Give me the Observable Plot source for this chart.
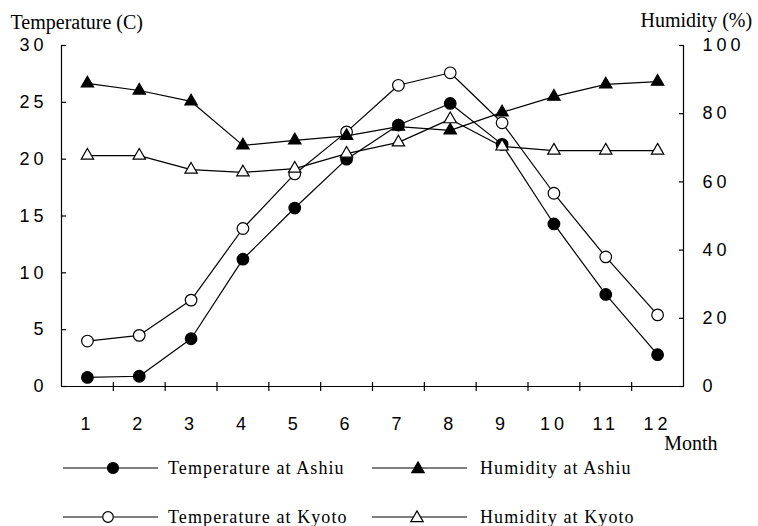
<!DOCTYPE html>
<html>
<head>
<meta charset="utf-8">
<script src="https://cdn.jsdelivr.net/npm/d3@7"></script>
<script src="https://cdn.jsdelivr.net/npm/@observablehq/plot@0.6"></script>
<style>
  html, body { margin: 0; padding: 0; background: #fff; }
  #wrap { position: relative; width: 758px; height: 526px; overflow: hidden; }
  #chart svg [aria-label$="tick label"] text { letter-spacing: 4px; }
  #legend { position: absolute; left: 0; top: 452px; width: 758px; height: 74px; }
  .item { position: absolute; display: flex; align-items: center; height: 20px;
          font-family: "Liberation Serif", "Times New Roman", serif; font-size: 18px; color: #000; }
  .item svg { display: block; margin-right: 10px; }
  .item span { letter-spacing: 1.1px; }
  .hum { margin-left: 3px; }
</style>
</head>
<body>
<div id="wrap">
  <div id="chart"></div>
  <div id="legend"></div>
</div>
<script>
const months = [1, 2, 3, 4, 5, 6, 7, 8, 9, 10, 11, 12];
const tempAshiu = [0.8, 0.9, 4.2, 11.2, 15.7, 20.0, 23.0, 24.9, 21.3, 14.3, 8.1, 2.8];
const tempKyoto = [4.0, 4.5, 7.6, 13.9, 18.7, 22.4, 26.5, 27.6, 23.2, 17.0, 11.4, 6.3];
const humAshiu = [88.9, 86.8, 83.6, 70.7, 72.2, 73.5, 76.2, 75.1, 80.4, 85.0, 88.6, 89.4];
const humKyoto = [67.7, 67.7, 63.6, 62.8, 63.9, 68.3, 71.6, 78.4, 70.4, 69.2, 69.2, 69.2];
const tempTicks = [0, 5, 10, 15, 20, 25, 30];
const humTicks = [0, 20, 40, 60, 80, 100];
const monthBounds = [1.5, 2.5, 3.5, 4.5, 5.5, 6.5, 7.5, 8.5, 9.5, 10.5, 11.5];
const xDomain = [0.5, 12.5];
const tempDomain = [0, 30];
const humDomain = [0, 100];
const k = (tempDomain[1] - tempDomain[0]) / (humDomain[1] - humDomain[0]);

const series = [
  {name: "Temperature at Ashiu", values: tempAshiu, scale: 1, symbol: "circle", fill: "#000"},
  {name: "Temperature at Kyoto", values: tempKyoto, scale: 1, symbol: "circle", fill: "#fff"},
  {name: "Humidity at Ashiu", values: humAshiu, scale: k, symbol: "triangle", fill: "#000"},
  {name: "Humidity at Kyoto", values: humKyoto, scale: k, symbol: "triangle", fill: "#fff"}
];
const rows = s => months.map((m, i) => ({month: m, y: s.values[i] * s.scale}));

const serif = "Liberation Serif, Times New Roman, serif";
const marks = [
  Plot.ruleY([tempDomain[0]], {stroke: "#000", strokeWidth: 1.2}),
  Plot.ruleX(xDomain, {stroke: "#000", strokeWidth: 1.2}),
  Plot.ruleX(monthBounds, {x: d => d, y1: 0, y2: 0, insetTop: -4, insetBottom: -5, stroke: "#000", strokeWidth: 1.2}),
  Plot.axisX(months, {tickSize: 0, tickPadding: 31, label: null, fontSize: 18}),
  Plot.axisY(tempTicks, {anchor: "left", tickSize: -5, tickPadding: 19, label: null, fontSize: 18, strokeWidth: 1.2}),
  Plot.axisY(humTicks.map(h => h * k), {anchor: "right", tickSize: -5, tickPadding: 24, label: null, fontSize: 18, strokeWidth: 1.2,
    tickFormat: d => String(Math.round(d / k))}),
  Plot.text(["Temperature (C)"], {frameAnchor: "top-left", dx: -51, dy: -23, textAnchor: "start", lineAnchor: "middle", fontFamily: serif, fontSize: 20}),
  Plot.text(["Humidity (%)"], {frameAnchor: "top-right", dx: -43, dy: -25, textAnchor: "start", lineAnchor: "middle", fontFamily: serif, fontSize: 20}),
  Plot.text(["Month"], {frameAnchor: "bottom-right", dx: 34, dy: 57, textAnchor: "end", lineAnchor: "middle", fontFamily: serif, fontSize: 20})
];
for (const s of series) {
  marks.push(Plot.line(rows(s), {x: "month", y: "y", stroke: "#000", strokeWidth: 1.2}));
}
for (const s of series) {
  marks.push(Plot.dot(rows(s), {x: "month", y: "y", symbol: s.symbol, r: s.symbol === "circle" ? 5.8 : 4.6,
    fill: s.fill, stroke: "#000", strokeWidth: 1.2}));
}

const chart = Plot.plot({
  width: 758, height: 452,
  marginLeft: 61, marginRight: 75, marginTop: 45, marginBottom: 66,
  x: {domain: xDomain},
  y: {domain: tempDomain},
  style: {fontFamily: "Liberation Sans, Arial, sans-serif", fontSize: "18px", color: "#000", background: "#fff", overflow: "visible"},
  marks
});
document.getElementById("chart").appendChild(chart);

// Legend (HTML below the SVG)
const legendPos = [
  {left: 63, top: 6, markerAt: 50},
  {left: 372, top: 6, markerAt: 46},
  {left: 63, top: 55, markerAt: 45},
  {left: 372, top: 55, markerAt: 45}
];
const order = [0, 2, 1, 3];
const legend = document.getElementById("legend");
order.forEach((si, j) => {
  const s = series[si], p = legendPos[j];
  const div = document.createElement("div");
  div.className = "item";
  div.style.left = p.left + "px";
  div.style.top = p.top + "px";
  const w = 95, h = 16, cy = 8;
  let marker;
  if (s.symbol === "circle") {
    marker = `<circle cx="${p.markerAt}" cy="${cy}" r="${si === 0 ? 5.5 : 5.3}" fill="${s.fill}" stroke="#000" stroke-width="1.2"/>`;
  } else {
    const pth = d3.symbol(d3.symbolTriangle, 4.6 * 4.6 * Math.PI)();
    marker = `<path d="${pth}" transform="translate(${p.markerAt},${cy + 1})" fill="${s.fill}" stroke="#000" stroke-width="1.2"/>`;
  }
  div.innerHTML = `<svg width="${w}" height="${h}"><line x1="0" x2="${w}" y1="${cy}" y2="${cy}" stroke="#000" stroke-width="1.1"/>${marker}</svg>` +
    `<span class="${s.symbol === "triangle" ? "hum" : ""}">${s.name}</span>`;
  legend.appendChild(div);
});
</script>
</body>
</html>
